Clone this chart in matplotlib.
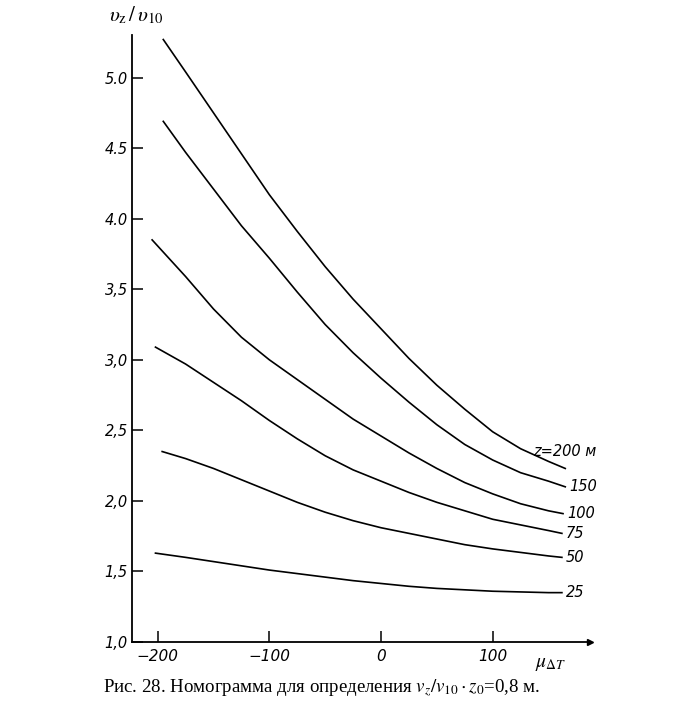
import numpy as np
import matplotlib.pyplot as plt

plt.rcParams['mathtext.fontset'] = 'stix'

# curves: mu_dT on x, v_z/v_10 on y
mu = [-175, -150, -125, -100, -75, -50, -25, 0, 25, 50, 75, 100, 125, 150]

x200 = [-195] + mu + [165]
v200 = [5.27, 5.04, 4.75, 4.46, 4.17, 3.91, 3.66, 3.43, 3.22, 3.01, 2.82, 2.65, 2.49, 2.37, 2.28, 2.23]
x150 = [-195] + mu + [165]
v150 = [4.69, 4.47, 4.21, 3.95, 3.72, 3.48, 3.25, 3.05, 2.87, 2.70, 2.54, 2.40, 2.29, 2.20, 2.14, 2.10]
x100 = [-205] + mu + [163]
v100 = [3.85, 3.59, 3.36, 3.16, 3.00, 2.86, 2.72, 2.58, 2.46, 2.34, 2.23, 2.13, 2.05, 1.98, 1.93, 1.91]
x75 = [-202] + mu + [162]
v75 = [3.09, 2.97, 2.84, 2.71, 2.57, 2.44, 2.32, 2.22, 2.14, 2.06, 1.99, 1.93, 1.87, 1.83, 1.79, 1.77]
x50 = [-196] + mu + [162]
v50 = [2.35, 2.30, 2.23, 2.15, 2.07, 1.99, 1.92, 1.86, 1.81, 1.77, 1.73, 1.69, 1.66, 1.635, 1.61, 1.60]
x25 = [-202] + mu + [162]
v25 = [1.63, 1.60, 1.57, 1.54, 1.51, 1.485, 1.46, 1.435, 1.415, 1.395, 1.38, 1.37, 1.36, 1.355, 1.35, 1.35]

labels = ["z=200 м", "150", "100", "75", "50", "25"]
xticks = [-200, -100, 0, 100]
yticks = [1.0, 1.5, 2.0, 2.5, 3.0, 3.5, 4.0, 4.5, 5.0]
ytick_labels = ["1,0", "1,5", "2,0", "2,5", "3,0", "3,5", "4.0", "4.5", "5.0"]

fig = plt.figure(figsize=(7, 7.2), dpi=100)
ax = fig.add_axes([0.1886, 0.1083, 0.654, 0.8427])

curves = [(x200, v200), (x150, v150), (x100, v100), (x75, v75), (x50, v50), (x25, v25)]
for (xs, vs), lab in zip(curves, labels):
    ax.plot(xs, vs, color="black", lw=1.2)
    if lab.startswith("z"):
        ax.annotate(lab, (xs[-1], vs[-1]), xytext=(-23, 12), textcoords="offset points",
                    fontsize=10.5, style="italic", va="center", ha="left")
    else:
        ax.annotate(lab, (xs[-1], vs[-1]), xytext=(3, 0), textcoords="offset points",
                    fontsize=10.5, style="italic", va="center", ha="left")

ax.set_xlim(-223, 187)
ax.set_ylim(1.0, 5.30)
ax.spines["top"].set_visible(False)
ax.spines["right"].set_visible(False)
ax.spines["left"].set_linewidth(1.3)
ax.spines["bottom"].set_linewidth(1.3)
ax.plot([1], [0], marker=">", color="black", ms=4, transform=ax.transAxes, clip_on=False)

ax.set_xticks(xticks)
ax.set_xticklabels(["\u2212200", "\u2212100", "0", "100"], style="italic", fontsize=11)
ax.set_yticks(yticks)
ax.set_yticklabels(ytick_labels, style="italic", fontsize=10.5)
ax.tick_params(axis="x", direction="in", length=8, width=1.1, pad=5)
ax.tick_params(axis="y", direction="in", length=8, width=1.1, pad=3)

ax.text(-0.05, 1.033, r"$\upsilon_{\rm z}\,/\,\upsilon_{10}$", transform=ax.transAxes,
        fontsize=15, ha="left", va="center")
ax.text(0.88, -0.035, r"$\mu_{\Delta T}$", transform=ax.transAxes,
        fontsize=14, ha="left", va="center")

fig.text(0.147, 0.044, "Рис. 28. Номограмма для определения $v_z/v_{10}\\cdot z_0$=0,8 м.",
         fontsize=13.6, family="Liberation Serif", ha="left", va="center")

fig.savefig("out.png", dpi=100, facecolor="white")
